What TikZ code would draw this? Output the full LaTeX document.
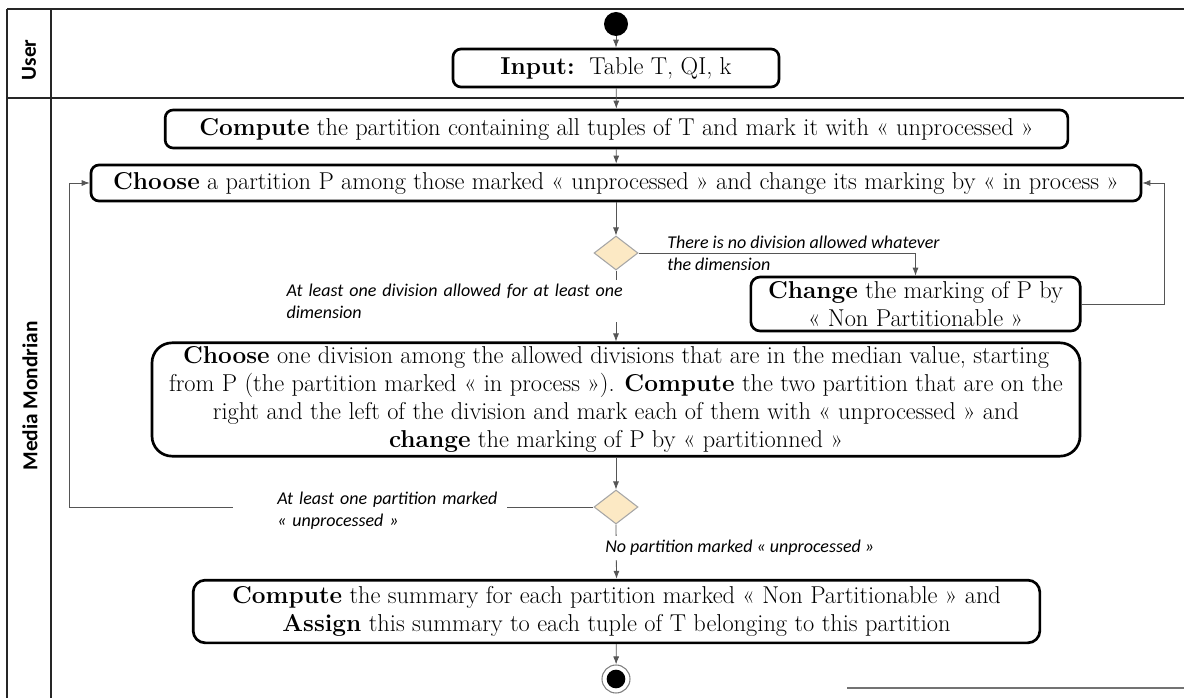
\documentclass[tikz,border=0pt]{standalone}
\usepackage{fontspec}
\usetikzlibrary{arrows.meta,shapes.geometric,calc}
\newfontfamily\carlito{Carlito}
\newcommand\boxfont{\fontsize{18.3}{21}\selectfont}
\newcommand\lblfont{\carlito\itshape\fontsize{13.5}{16.5}\selectfont}
\definecolor{diafill}{HTML}{FCE9C4}
\definecolor{diadraw}{HTML}{A6A6A6}
\definecolor{linegray}{HTML}{555555}
\tikzset{
  box/.style={draw=black, line width=2pt, rounded corners=6pt, fill=white, align=center, font=\boxfont, inner sep=0pt},
  arr/.style={draw=linegray, line width=0.6pt, -{Latex[length=6pt,width=4.5pt]}},
  dia/.style={diamond, draw=diadraw, fill=diafill, line width=0.8pt, minimum width=33pt, minimum height=25.5pt, inner sep=0pt},
  lbl/.style={font=\lblfont, align=left, inner sep=0pt},
  lane/.style={draw=black!85, line width=1.4pt},
  lanetext/.style={font=\carlito\bfseries\fontsize{16}{18}\selectfont, rotate=90}
}
\begin{document}
\begin{tikzpicture}[x=0.75pt,y=-0.75pt]
\useasboundingbox (0,0) rectangle (1184,698);
% swimlane frame
\draw[lane] (7,9) -- (1184,9);
\draw[lane] (7,98) -- (1184,98);
\draw[lane] (7,9) -- (7,698);
\draw[lane] (51,9) -- (51,698);
\draw[draw=black!55, line width=1pt] (847,688) -- (1184,688);
\node[lanetext] (laneuser) at (29,60) {User};
\node[lanetext] (lanemm) at (30,396) {Media Mondrian};
% nodes
\node[circle, fill=black, minimum size=18pt, inner sep=0pt] (start) at (616,24) {};
\node[box, minimum width=244.5pt, minimum height=28.5pt] (input) at (616,68) {\textbf{Input:}\ \ Table T, QI, k};
\node[box, minimum width=677pt, minimum height=28.5pt] (compute) at (616.5,129) {\textbf{Compute} the partition containing all tuples of T and mark it with « unprocessed »};
\node[box, minimum width=787.5pt, minimum height=27pt] (choose) at (616,183) {\textbf{Choose} a partition P among those marked « unprocessed » and change its marking by « in process »};
\node[dia] (d1) at (616,253) {};
\node[box, minimum width=247pt, minimum height=40.5pt, rounded corners=7pt] (change) at (915.5,304) {\textbf{Change} the marking of P by\\« Non Partitionable »};
\node[box, minimum width=696pt, minimum height=85pt, rounded corners=15pt] (choose2) at (616,399.5) {\textbf{Choose} one division among the allowed divisions that are in the median value, starting\\from P (the partition marked « in process »). \textbf{Compute} the two partition that are on the\\right and the left of the division and mark each of them with « unprocessed » and\\\textbf{change} the marking of P by « partitionned »};
\node[dia] (d2) at (616,507) {};
\node[box, minimum width=635pt, minimum height=47pt, rounded corners=9pt] (compute2) at (616.5,611.5) {\textbf{Compute} the summary for each partition marked « Non Partitionable » and\\\textbf{Assign} this summary to each tuple of T belonging to this partition};
\node[circle, draw=black!50, line width=0.8pt, fill=white, minimum size=21pt, inner sep=0pt] (end) at (616,679) {};
\node[circle, fill=black, minimum size=14pt, inner sep=0pt] (endin) at (616,679) {};
\coordinate (loopR) at (1164,0);
\coordinate (loopL) at (69,0);
% connectors
\draw[arr] (start) -- (input);
\draw[arr] (input) -- (compute);
\draw[arr] (compute) -- (choose);
\draw[arr] (choose) -- (d1);
\draw[arr] (d1.east) -| (change.north);
\draw[arr] (d1.south) -- (choose2.north);
\draw[arr] (change.east) -- (change.east -| loopR) |- (choose.east);
\draw[arr] (choose2) -- (d2);
\draw[arr] (d2.west) -- (d2.west -| loopL) |- (choose.west);
\draw[arr] (d2.south) -- (compute2.north);
\draw[arr] (compute2) -- (end);
% labels
\node[lbl, anchor=west] (l1) at (667,253) {There is no division allowed whatever\\the dimension};
\node[lbl, anchor=west, fill=white, inner xsep=4pt, inner ysep=3pt, text width=270pt] (l2) at (281,301) {At least one division allowed for at least one\\dimension};
\node[lbl, anchor=west, fill=white, inner ysep=3pt, text width=205.5pt] (l3) at (233,511) {\hspace*{33pt}At least one partition marked\\\hspace*{33pt}« unprocessed »};
\node[lbl, anchor=west, fill=white, inner xsep=3pt, inner ysep=3pt] (l4) at (601,548) {No partition marked « unprocessed »};
\end{tikzpicture}
\end{document}
